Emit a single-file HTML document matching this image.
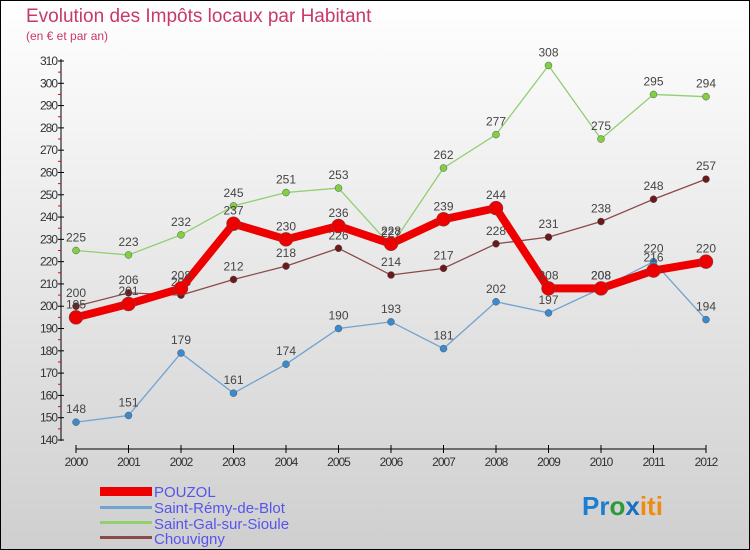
<!DOCTYPE html>
<html><head><meta charset="utf-8"><style>
body{margin:0}
svg{display:block;font-family:"Liberation Sans",sans-serif}
</style></head><body>
<svg width="750" height="550">
<defs><linearGradient id="bg" x1="0" y1="0" x2="0" y2="1"><stop offset="0" stop-color="#ffffff"/><stop offset="1" stop-color="#cfcfcf"/></linearGradient></defs>
<rect x="0.5" y="0.5" width="749" height="549" fill="url(#bg)" stroke="#000"/>
<text x="26" y="22" font-size="19" fill="#c8386a">Evolution des Impôts locaux par Habitant</text>
<text x="26" y="40" font-size="12" fill="#c8386a">(en € et par an)</text>
<g id="axes"></g>
<g id="series"></g>
<g id="legend" font-size="15" fill="#5555ee">
<rect x="100" y="487" width="52" height="9" fill="#e00"/>
<text x="154" y="497">POUZOL</text>
<rect x="100" y="506" width="52" height="3" fill="#6fa3d0"/>
<text x="154" y="513">Saint-Rémy-de-Blot</text>
<rect x="100" y="521" width="52" height="3" fill="#90d070"/>
<text x="154" y="529">Saint-Gal-sur-Sioule</text>
<rect x="100" y="536" width="52" height="3" fill="#8a4a4a"/>
<text x="154" y="544">Chouvigny</text>
</g>
<text x="582" y="515" font-size="26" font-weight="bold"><tspan fill="#1a7fd0">Pr</tspan><tspan fill="#2a9a3a">o</tspan><tspan fill="#1a6fc0">x</tspan><tspan fill="#f08a10">iti</tspan></text>
</svg>
<script>
const years=[2000,2001,2002,2003,2004,2005,2006,2007,2008,2009,2010,2011,2012];
const pouzol=[195,201,208,237,230,236,228,239,244,208,208,216,220];
const remy=[148,151,179,161,174,190,193,181,202,197,208,220,194];
const gal=[225,223,232,245,251,253,227,262,277,308,275,295,294];
const chouvigny=[200,206,205,212,218,226,214,217,228,231,238,248,257];
const yTicks=[140,150,160,170,180,190,200,210,220,230,240,250,260,270,280,290,300,310];
const NS="http://www.w3.org/2000/svg";
const x=i=>76+i*52.5;
const y=v=>440-(v-140)*(379/170);
function mk(t,a,p){const e=document.createElementNS(NS,t);for(const k in a)e.setAttribute(k,a[k]);p.appendChild(e);return e;}
const ax=document.getElementById('axes');
let l=mk('line',{x1:61,y1:59,x2:61,y2:441,stroke:'#000'},ax);


l=mk('line',{x1:76,y1:449,x2:706,y2:449,stroke:'#000'},ax);


yTicks.forEach(v=>{
 mk('line',{x1:58,x2:64,y1:y(v),y2:y(v),stroke:'#000'},ax);
 if(v<310) mk('line',{x1:58,x2:61,y1:y(v+5),y2:y(v+5),stroke:'#e00'},ax);
 const t=mk('text',{x:57,y:y(v)+4,'font-size':12,'text-anchor':'end',fill:'#333','letter-spacing':'-1'},ax);
 t.textContent=v;
 
 
});
years.forEach((yr,i)=>{
 mk('line',{x1:x(i),x2:x(i),y1:445,y2:453,stroke:'#000'},ax);
 const t=mk('text',{x:x(i),y:466,'font-size':12,'text-anchor':'middle',fill:'#333','letter-spacing':'-1'},ax);
 t.textContent=yr;
 
 
});
const sg=document.getElementById('series');
function series(d,color,w,r,dot,name){
 const g=mk('g',{},sg);
 
 
 const p=mk('polyline',{points:d.map((v,i)=>x(i)+','+y(v)).join(' '),fill:'none',stroke:color,'stroke-width':w,'stroke-linejoin':'round'},g);
 
 
 d.forEach((v,i)=>{
  const c=mk('circle',{cx:x(i),cy:y(v),r:r,fill:dot,stroke:'#555','stroke-width':0.5},g);
  
  
  const t=mk('text',{x:x(i),y:y(v)-9,'font-size':12,'text-anchor':'middle',fill:'#444'},g);
  t.textContent=v;
  
  
 });
}
series(remy,'#6fa3d0',1.3,3.5,'#3a8ad0','saint-remy');
series(gal,'#90d070',1.3,3.5,'#80d040','saint-gal');
series(chouvigny,'#8a4a4a',1.3,3.5,'#6a1a1a','chouvigny');
series(pouzol,'#ee0000',8,7,'#ee0000','pouzol');
</script>
</body></html>
